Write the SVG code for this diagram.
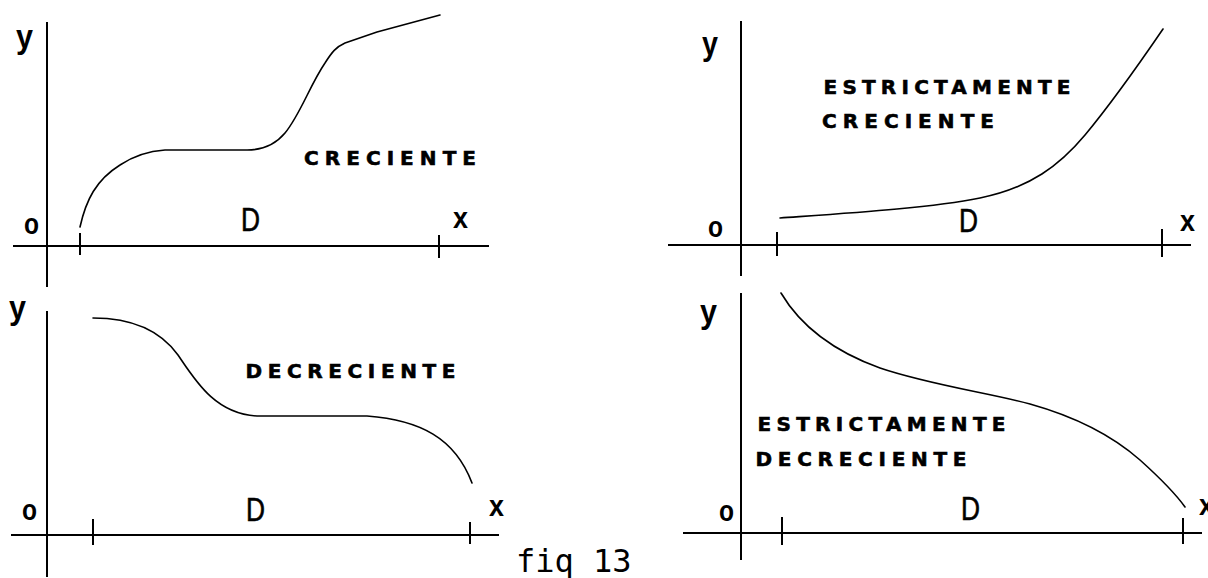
<svg xmlns="http://www.w3.org/2000/svg" width="1208" height="578" viewBox="0 0 1208 578">
<style>
.ax{stroke:#000;stroke-width:2;fill:none}
.cv{stroke:#000;stroke-width:1.6;fill:none;stroke-linecap:round;stroke-linejoin:round}
.lb{font-family:"Liberation Sans",Arial,sans-serif;font-size:30px;font-weight:bold;fill:#000}
.ly{font-family:"Liberation Sans",Arial,sans-serif;font-size:33px;font-weight:bold;fill:#000}
.dd{font-family:"Liberation Sans",Arial,sans-serif;font-size:33px;fill:#000;stroke:#000;stroke-width:0.6}
.bt{font-family:"DejaVu Sans",sans-serif;font-weight:bold;font-size:20px;fill:#000;stroke:#000;stroke-width:0.6}
.fg{font-family:"DejaVu Sans Mono",monospace;font-size:32px;fill:#000}
</style>
<rect width="1208" height="578" fill="#fff"/>

<g id="panel-creciente">
  <path class="ax" d="M47,22 V287 M13,246 H489 M80,233 V255 M439,235 V258"/>
  <path class="cv" d="M80,227 C86,200 96,180 120,165 C135,155 150,151 165,150 L247,150 C262,150 275,145 285,133 C300,115 310,85 325,63 C332,52 336,47 345,43 L377,32 L440,15"/>
  <text class="ly" x="16" y="48" textLength="17" lengthAdjust="spacingAndGlyphs">y</text>
  <text class="lb" x="24" y="234" textLength="15" lengthAdjust="spacingAndGlyphs">o</text>
  <text class="lb" x="453" y="228" textLength="15" lengthAdjust="spacingAndGlyphs">x</text>
  <text class="dd" x="241" y="231" textLength="19" lengthAdjust="spacingAndGlyphs">D</text>
  <text class="bt" x="304" y="165" textLength="172" lengthAdjust="spacing">CRECIENTE</text>
</g>

<g id="panel-estrictamente-creciente">
  <path class="ax" d="M741,21 V276 M668,245 H1191 M777,232 V256 M1162,229 V257"/>
  <path class="cv" d="M780,218 C850,213 930,208 980,198 C1030,188 1060,165 1085,135 C1110,105 1135,70 1163,29"/>
  <text class="ly" x="702" y="55" textLength="16" lengthAdjust="spacingAndGlyphs">y</text>
  <text class="lb" x="708" y="237" textLength="15" lengthAdjust="spacingAndGlyphs">o</text>
  <text class="lb" x="1180" y="231" textLength="15" lengthAdjust="spacingAndGlyphs">x</text>
  <text class="dd" x="959" y="232" textLength="19" lengthAdjust="spacingAndGlyphs">D</text>
  <text class="bt" x="823.5" y="94" textLength="247" lengthAdjust="spacing">ESTRICTAMENTE</text>
  <text class="bt" x="822" y="128" textLength="172" lengthAdjust="spacing">CRECIENTE</text>
</g>

<g id="panel-decreciente">
  <path class="ax" d="M47,311 V577 M11,535 H499 M93,519 V545 M470,522 V544"/>
  <path class="cv" d="M93,318 C130,318 160,330 178,355 C195,380 215,414 257,416 L367,416 C420,420 455,438 472,483"/>
  <text class="ly" x="9" y="319" textLength="17" lengthAdjust="spacingAndGlyphs">y</text>
  <text class="lb" x="22" y="520" textLength="15" lengthAdjust="spacingAndGlyphs">o</text>
  <text class="lb" x="489" y="516" textLength="15" lengthAdjust="spacingAndGlyphs">x</text>
  <text class="dd" x="246" y="521" textLength="19" lengthAdjust="spacingAndGlyphs">D</text>
  <text class="bt" x="245.5" y="378" textLength="210" lengthAdjust="spacing">DECRECIENTE</text>
</g>

<g id="panel-estrictamente-decreciente">
  <path class="ax" d="M741,293 V560 M683,533 H1202 M782,517 V545 M1183,518 V544"/>
  <path class="cv" d="M781,293 C800,325 830,350 880,368 C930,385 990,393 1030,404 C1080,418 1115,438 1140,460 C1160,478 1175,493 1185,507"/>
  <text class="ly" x="700" y="323" textLength="17" lengthAdjust="spacingAndGlyphs">y</text>
  <text class="lb" x="719" y="521" textLength="15" lengthAdjust="spacingAndGlyphs">o</text>
  <text class="lb" x="1199" y="515" textLength="15" lengthAdjust="spacingAndGlyphs">x</text>
  <text class="dd" x="961" y="520" textLength="19" lengthAdjust="spacingAndGlyphs">D</text>
  <text class="bt" x="757.5" y="431" textLength="248" lengthAdjust="spacing">ESTRICTAMENTE</text>
  <text class="bt" x="755.5" y="466" textLength="211" lengthAdjust="spacing">DECRECIENTE</text>
</g>

<g id="caption">
  <text class="fg" x="516" y="572">fiq 13</text>
</g>
</svg>
